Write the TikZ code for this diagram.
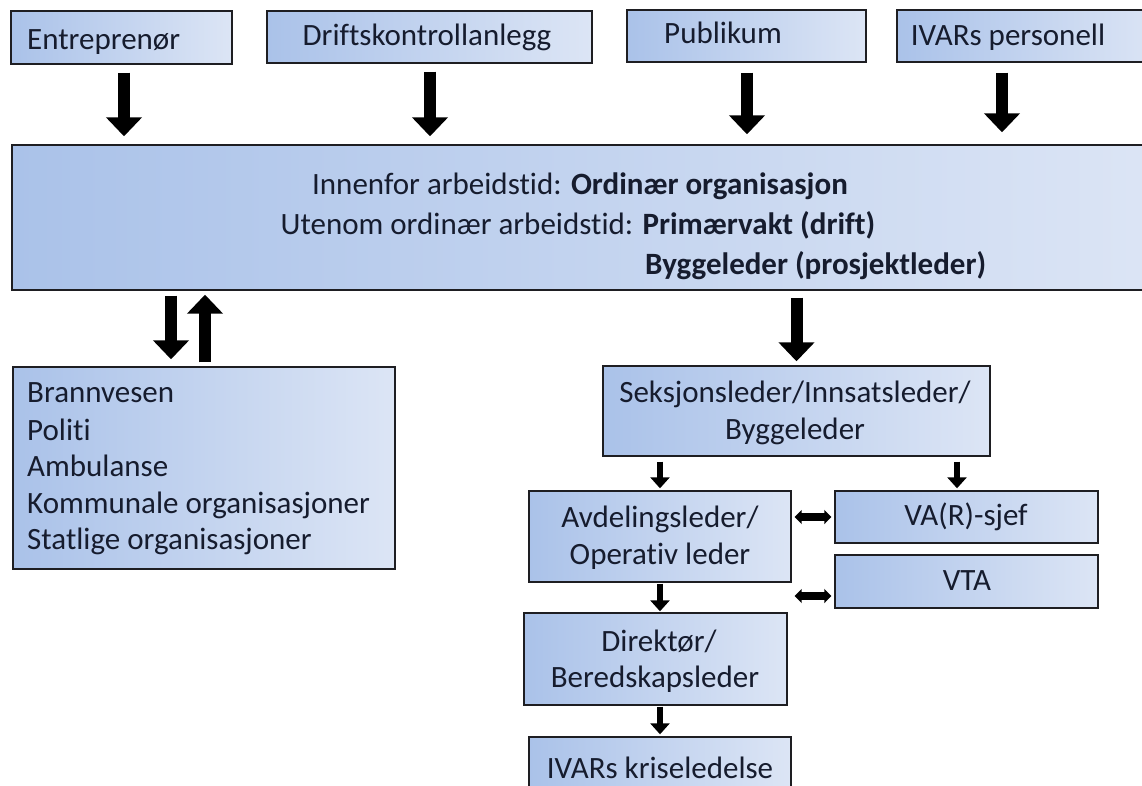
\documentclass[tikz,border=0pt]{standalone}
\usepackage{fontspec}
\setmainfont{Carlito}[Ligatures={NoCommon}]
\usetikzlibrary{arrows.meta,fit}
\definecolor{boxL}{RGB}{170,194,233}
\definecolor{boxR}{RGB}{220,229,245}
\definecolor{txtc}{RGB}{22,28,46}
\definecolor{edge}{RGB}{30,30,34}
\tikzset{
  box/.style={draw=edge, line width=1.4pt, left color=boxL, right color=boxR, inner sep=0pt},
  lbl/.style={anchor=base, text=txtc, inner sep=0pt, font=\fontsize{31}{37}\selectfont},
  lblw/.style={lbl, anchor=base west},
  bigarrow/.style={line width=12pt, -{Triangle[width=35pt,length=19pt]}},
  smallarrow/.style={line width=6.5pt, -{Triangle[width=19pt,length=11pt]}},
  dblarrow/.style={line width=7.5pt, {Triangle[width=14pt,length=7pt]}-{Triangle[width=14pt,length=7pt]}}
}
\begin{document}
\begin{tikzpicture}[x=1pt,y=-1pt]
\clip (0,0) rectangle (1142,785);
\fill[white] (0,0) rectangle (1142,785);

% top boxes
\node[box, fit={(11,11) (232,64)}] (ent) {};
\node[box, fit={(267,11) (592,63)}] (dka) {};
\node[box, fit={(627,10) (866,62)}] (pub) {};
\node[box, fit={(897,10) (1160,62)}] (ivp) {};
\node[lblw] at (27,49) {Entreprenør};
\node[lbl] at (427,45) {Driftskontrollanlegg};
\node[lbl] at (723,43) {Publikum};
\node[lbl] at (1008,45) {IVARs personell};

% main box
\node[box, fit={(12,145) (1160,290)}] (main) {};
\node[lbl] at (580,194) {Innenfor arbeidstid: \textbf{Ordinær organisasjon}};
\node[lbl] at (578,234) {Utenom ordinær arbeidstid: \textbf{Primærvakt (drift)}};
\node[lblw] at (645,274) {\textbf{Byggeleder (prosjektleder)}};

% left box
\node[box, fit={(13,367) (395,569)}] (ext) {};
\node[lblw] at (27,402) {Brannvesen};
\node[lblw] at (27,440) {Politi};
\node[lblw] at (27,476) {Ambulanse};
\node[lblw] at (27,513) {Kommunale organisasjoner};
\node[lblw] at (27,549) {Statlige organisasjoner};

% right hierarchy
\node[box, fit={(603,366) (990,456)}] (seks) {};
\node[lbl] at (795,402) {Seksjonsleder/Innsatsleder/};
\node[lbl] at (795,439) {Byggeleder};

\node[box, fit={(529,491) (791,582)}] (avd) {};
\node[lbl] at (660,527) {Avdelingsleder/};
\node[lbl] at (660,564) {Operativ leder};

\node[box, fit={(835,491) (1098,543)}] (var) {};
\node[lbl] at (966,525) {VA(R)-sjef};
\node[box, fit={(835,555) (1098,608)}] (vta) {};
\node[lbl] at (967,590) {VTA};

\node[box, fit={(524,613) (787,705)}] (dir) {};
\node[lbl] at (659,651) {Direktør/};
\node[lbl] at (655,687) {Beredskapsleder};

\node[box, fit={(529,737) (791,810)}] (kri) {};
\node[lbl] at (660,778) {IVARs kriseledelse};

% top arrows
\draw[bigarrow, shorten <=8pt, shorten >=8pt] ([xshift=2.5pt]ent.south) -- ([xshift=2.5pt]ent.south |- main.north);
\draw[bigarrow, shorten <=8pt, shorten >=8pt] ([xshift=0.5pt]dka.south) -- ([xshift=0.5pt]dka.south |- main.north);
\draw[bigarrow, shorten <=10pt, shorten >=10pt] ([xshift=0.5pt]pub.south) -- ([xshift=0.5pt]pub.south |- main.north);
\draw[bigarrow, shorten <=10pt, shorten >=12pt] ([xshift=-26.5pt]ivp.south) -- ([xshift=-26.5pt]ivp.south |- main.north);

% main <-> external
\draw[bigarrow, shorten <=5pt, shorten >=7pt] ([xshift=-33pt]ext.north |- main.south) -- ([xshift=-33pt]ext.north);
\draw[bigarrow, shorten <=4pt, shorten >=4pt] ([xshift=1pt]ext.north) -- ([xshift=1pt]ext.north |- main.south);

% main -> seks
\draw[bigarrow, shorten <=7pt, shorten >=4pt] (seks.north |- main.south) -- (seks.north);

% small arrows
\draw[smallarrow, shorten <=5pt, shorten >=2pt] (avd.north |- seks.south) -- (avd.north);
\draw[smallarrow, shorten <=5pt, shorten >=2pt] ([xshift=-9.5pt]var.north |- seks.south) -- ([xshift=-9.5pt]var.north);
\draw[smallarrow, shorten <=1pt, shorten >=1pt] (avd.south) -- (avd.south |- dir.north);
\draw[smallarrow, shorten <=1pt, shorten >=2pt] (avd.south |- dir.south) -- (avd.south |- kri.north);

% double arrows
\draw[dblarrow, shorten <=3pt, shorten >=3pt] (var.west -| avd.east) -- (var.west);
\draw[dblarrow, shorten <=3pt, shorten >=3pt] ([yshift=-14.5pt]vta.west -| avd.east) -- ([yshift=-14.5pt]vta.west);
\end{tikzpicture}
\end{document}
